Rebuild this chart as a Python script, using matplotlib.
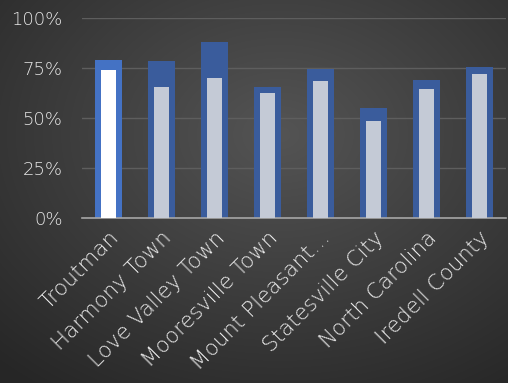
import numpy as np
import matplotlib
matplotlib.use("Agg")
import matplotlib.pyplot as plt

places = ["Troutman", "Harmony Town", "Love Valley Town", "Mooresville Town",
          "Mount Pleasant…", "Statesville City", "North Carolina", "Iredell County"]
outer_vals = [0.79, 0.785, 0.88, 0.653, 0.747, 0.55, 0.69, 0.757]
inner_vals = [0.74, 0.655, 0.70, 0.627, 0.683, 0.485, 0.645, 0.72]
y_ticks = [0, 0.25, 0.5, 0.75, 1.0]

plt.rcParams['font.family'] = ['DejaVu Sans']

W, H = 508, 383
fig = plt.figure(figsize=(W / 100, H / 100), dpi=100)

# radial dark background
bg = fig.add_axes([0, 0, 1, 1], zorder=-10)
yy, xx = np.mgrid[0:H, 0:W]
cx, cy = W * 0.55, H * 0.35
r = np.sqrt(((xx - cx) / W) ** 2 + ((yy - cy) / H) ** 2)
shade = np.clip(0.33 - 0.22 * r, 0.15, 0.33)
bg.imshow(np.dstack([shade, shade, shade]), extent=[0, 1, 0, 1], aspect='auto')
bg.set_axis_off()

ax = fig.add_axes([82 / W, 165 / H, 424 / W, 200 / H])
ax.patch.set_alpha(0)

x = np.arange(len(places))
outer_colors = ['#4472c4'] + ['#3a5c9c'] * (len(places) - 1)
inner_colors = ['#ffffff'] + ['#c4cad6'] * (len(places) - 1)
ax.bar(x, outer_vals, width=0.51, color=outer_colors, zorder=2)
ax.bar(x, inner_vals, width=0.30, color=inner_colors, zorder=3)

ax.set_xlim(-0.5, len(places) - 0.5)
ax.set_ylim(0, 1)
ax.grid(axis='y', color='#5e5e5e', linewidth=1, zorder=0)
ax.set_axisbelow(True)
for s in ['top', 'right', 'left']:
    ax.spines[s].set_visible(False)
ax.spines['bottom'].set_color('#a6a6a6')
ax.spines['bottom'].set_linewidth(1.2)

ax.tick_params(axis='both', length=0, colors='#e8e8e8')
ax.tick_params(axis='y', pad=14)
ax.set_yticks(y_ticks)
ax.set_yticklabels([f"{int(v * 100)}%" for v in y_ticks], fontsize=13,
                   fontweight='light', color='#e8e8e8')
ax.set_xticks(x)
ax.set_xticklabels(places, rotation=45, ha='right', rotation_mode='anchor',
                   fontsize=15.5, fontweight='light', color='#e8e8e8')
ax.tick_params(axis='x', pad=7)

fig.savefig("out.png", dpi=100)
